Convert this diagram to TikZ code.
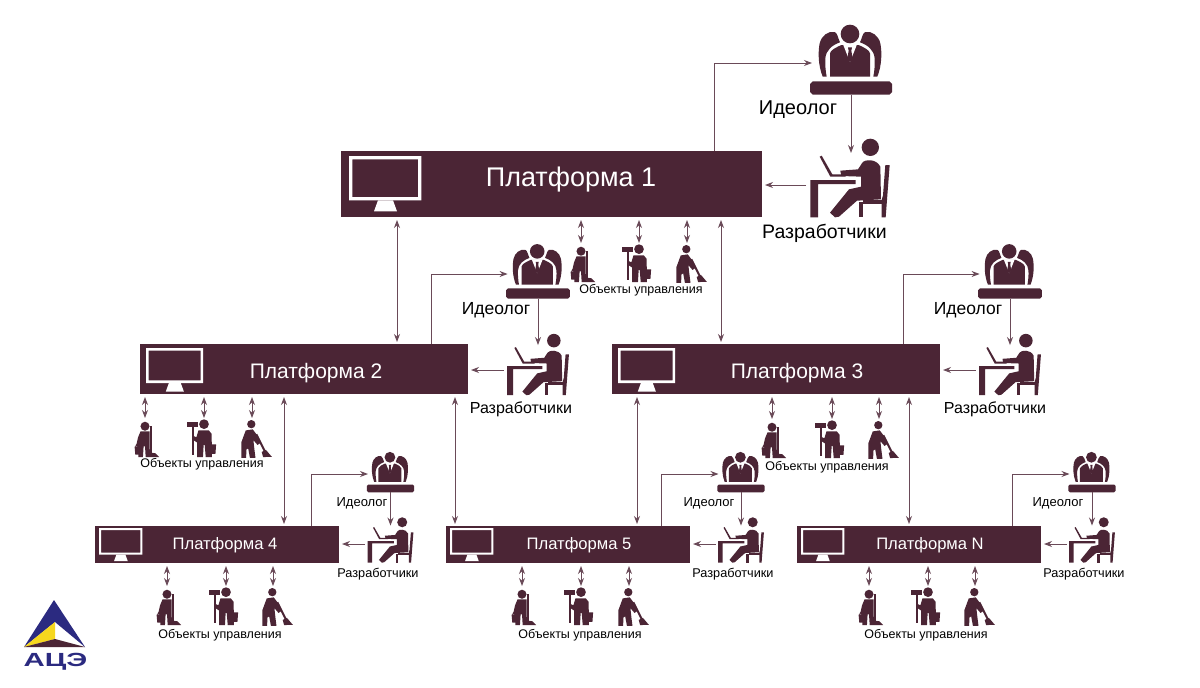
\documentclass[tikz,border=0pt]{standalone}
\usepackage{graphicx}
\usepackage{fontspec}
\setmainfont{Liberation Sans}
\usetikzlibrary{arrows.meta}
\definecolor{maroon}{HTML}{4B2535}
\definecolor{linec}{HTML}{6A4A58}
\definecolor{lblue}{HTML}{2B2A80}
\definecolor{lyellow}{HTML}{F6D71E}
\newcommand\fs[1]{\fontsize{#1}{#1}\selectfont}
\tikzset{
  plat/.style={fill=maroon,inner sep=0pt,outer sep=0pt},
  spot/.style={inner sep=0pt,outer sep=0pt},
  ptext/.style={text=white,inner sep=0pt},
  lbl/.style={text=black,inner sep=0pt},
  arr/.style={draw=linec,line width=1pt,-{Stealth[length=8pt,width=6pt]}},
  dbl/.style={draw=linec,line width=1pt,{Stealth[length=8pt,width=6pt]}-{Stealth[length=8pt,width=6pt]},shorten <=3pt,shorten >=2pt},
  monitorpic/.pic={
    \fill[white,even odd rule] (0,0) rectangle (217,133) (10,10) rectangle (207,123);
    \fill[white] (87,133) -- (132,133) -- (144,166) -- (75,166) -- cycle;
  },
  ideologpic/.pic={
    \begin{scope}[shift={(-391,-159)}]
    \fill[maroon] (276,214) -- (506,214) -- (514,222) -- (514,246) -- (506,254) -- (276,254) -- (268,246) -- (268,222) -- cycle;
    \fill[maroon] (388,72) circle (28);
    \fill[maroon] (328,200) -- (328,130) .. controls (330,120) and (345,113) .. (362,105) -- (414,105) .. controls (431,113) and (446,120) .. (448,130) -- (448,200) -- cycle;
    \fill[white] (367,103) -- (409,103) -- (388,156) -- cycle;
    \fill[maroon] (382,112) -- (394,112) -- (392,122) -- (396,146) -- (388,156) -- (380,146) -- (384,122) -- cycle;
    \fill[maroon] (306,200) .. controls (292,165) and (292,125) .. (297,100) .. controls (302,78) and (322,62) .. (342,66) .. controls (350,68) and (352,85) .. (358,97) .. controls (335,105) and (316,120) .. (314,145) .. controls (313,165) and (315,185) .. (318,200) -- cycle;
    \fill[maroon] (470,200) .. controls (484,165) and (484,125) .. (479,100) .. controls (474,78) and (454,62) .. (434,66) .. controls (426,68) and (424,85) .. (418,97) .. controls (441,105) and (460,120) .. (462,145) .. controls (463,165) and (461,185) .. (458,200) -- cycle;
    \end{scope}
  },
  devpic/.pic={
    \begin{scope}[shift={(-391,-525)}]
    \fill[maroon] (452,412) circle (26);
    \fill[maroon] (300,440) -- (306,437) -- (338,493) -- (378,493) -- (378,500) -- (332,500) -- cycle;
    \fill[maroon] (272,510) rectangle (408,522) (272,522) rectangle (295,622);
    \fill[maroon] (362,482) -- (415,478) -- (428,458) .. controls (435,448) and (470,445) .. (482,470) -- (484,568) -- (412,572) -- (358,620) -- (346,622) -- (331,608) -- (388,538) -- (424,530) -- (424,500) -- (365,498) -- cycle;
    \fill[maroon] (497,465) -- (510,465) -- (498,622) -- (486,622) -- (486,570) -- (490,556) -- cycle;
    \fill[maroon] (418,575) rectangle (430,622);
    \fill[maroon] (430,570) rectangle (490,582);
    \end{scope}
  },
  cleanerpic/.pic={
    \begin{scope}[shift={(-62,-100)}]
    \fill[maroon] (62,118) circle (13);
    \fill[maroon] (77,117) rectangle (83,197);
    \fill[maroon] (77,194) -- (92,196) -- (103,207) -- (77,207) -- cycle;
    \fill[maroon] (49,133) -- (75,133) -- (76,207) -- (64,207) -- (62,176) -- (58,176) -- (56,207) -- (43,207) -- (43,178) -- (36,176) -- (42,150) -- cycle;
    \fill[maroon] (32,177) -- (54,177) -- (52,200) -- (34,200) -- cycle;
    \draw[maroon,line width=.5pt] (34,178) .. controls (34,166) and (52,166) .. (52,178);
    \end{scope}
  },
  painterpic/.pic={
    \begin{scope}[shift={(-238,-100)}]
    \fill[maroon] (238,112) circle (14);
    \fill[maroon] (188,105) rectangle (222,119);
    \fill[maroon] (202,119) rectangle (208,202);
    \fill[maroon] (222,130) -- (252,130) -- (260,140) -- (261,207) -- (243,207) -- (240,172) -- (237,172) -- (235,207) -- (218,207) -- (218,165) -- (206,157) -- (206,145) -- (216,150) -- cycle;
    \fill[maroon] (247,170) -- (273,170) -- (271,198) -- (249,198) -- cycle;
    \end{scope}
  },
  sweeperpic/.pic={
    \begin{scope}[shift={(-380,-100)}]
    \fill[maroon] (378,112) circle (12);
    \fill[maroon] (362,130) -- (382,127) -- (398,148) -- (406,165) -- (396,172) -- (384,158) -- (387,185) -- (390,209) -- (374,209) -- (369,182) -- (364,185) -- (363,209) -- (349,209) -- (349,165) -- cycle;
    \fill[maroon] (390,142) -- (395,140) -- (420,190) -- (415,193) -- cycle;
    \fill[maroon] (408,192) -- (420,186) -- (437,206) -- (412,207) -- cycle;
    \end{scope}
  }
}
% platform: name, centre x, centre y, width, height
\newcommand\plat[5]{\node[plat,minimum width=#4pt,minimum height=#5pt] (#1) at (#2,#3) {};}
\newcommand\ideo[4]{\node[spot,minimum width={#4*78pt},minimum height={#4*63.4pt}] (#1) at (#2,#3) {};
  \pic[scale={#4/3}] at (#2,#3) {ideologpic};}
\newcommand\dev[4]{\node[spot,minimum width={#4*88pt},minimum height={#4*64pt}] (#1) at (#2,#3) {};
  \pic[scale={#4/3}] at (#2,#3) {devpic};}
% object group: prefix, x1, x2, x3, top y
\newcommand\objs[5]{%
  \node[spot,anchor=north,minimum width=30pt,minimum height=35pt] (#1a) at (#2,#5) {};
  \node[spot,anchor=north,minimum width=30pt,minimum height=35pt] (#1b) at (#3,#5) {};
  \node[spot,anchor=north,minimum width=30pt,minimum height=35pt] (#1c) at (#4,#5) {};
  \pic[scale={1.04/3}] at (#2,#5) {cleanerpic};
  \pic[scale={1.04/3}] at (#3,#5) {painterpic};
  \pic[scale={1.04/3}] at (#4,#5) {sweeperpic};}
\begin{document}
\begin{tikzpicture}[x=1pt,y=-1pt]
\useasboundingbox (0,0) rectangle (1200,688);
\fill[white] (0,0) rectangle (1200,688);
% platforms
\plat{p1}{551.5}{184}{421}{66}
\plat{p2}{304}{369}{328}{50}
\plat{p3}{776}{369}{328}{50}
\plat{p4}{217}{544.5}{244}{37}
\plat{p5}{568}{544.5}{244}{37}
\plat{pn}{919}{544.5}{244}{37}
\pic[scale=1/3] at (349,156) {monitorpic};
\pic[scale={.79/3}] at (146,348) {monitorpic};
\pic[scale={.79/3}] at (618,348) {monitorpic};
\pic[scale={.6/3}] at (99,528) {monitorpic};
\pic[scale={.6/3}] at (450,528) {monitorpic};
\pic[scale={.6/3}] at (801,528) {monitorpic};
\node[ptext,font=\fs{27}] (t1) at (571,180) {Платформа 1};
\node[ptext,font=\fs{21}] (t2) at (316,373) {Платформа 2};
\node[ptext,font=\fs{21}] (t3) at (797,373) {Платформа 3};
\node[ptext,font=\fs{16.6}] (t4) at (225,545.5) {Платформа 4};
\node[ptext,font=\fs{16.6}] (t5) at (579,545.5) {Платформа 5};
\node[ptext,font=\fs{16.6}] (t6) at (930,545.5) {Платформа N};
% people
\ideo{i1}{851}{63}{1}
\dev{d1}{850}{185}{1}
\ideo{i2}{538}{274}{.78}
\dev{d2}{538}{370}{.78}
\ideo{i3}{1010}{274}{.78}
\dev{d3}{1010}{370}{.78}
\ideo{i4}{390.5}{474}{.577}
\dev{d4}{390.5}{544}{.577}
\ideo{i5}{741}{474}{.577}
\dev{d5}{741}{544}{.577}
\ideo{i6}{1092}{474}{.577}
\dev{d6}{1092}{544}{.577}
% labels
\node[lbl,font=\fs{20}] (li1) at (798,109.5) {Идеолог};
\node[lbl,font=\fs{19.5}] (ld1) at (824.5,233) {Разработчики};
\node[lbl,font=\fs{17.5}] (li2) at (496,310) {Идеолог};
\node[lbl,font=\fs{16}] (ld2) at (521,409) {Разработчики};
\node[lbl,font=\fs{17.5}] (li3) at (968,310) {Идеолог};
\node[lbl,font=\fs{16}] (ld3) at (995,409) {Разработчики};
\node[lbl,font=\fs{13}] (li4) at (362,503) {Идеолог};
\node[lbl,font=\fs{12.7}] (ld4) at (378,574) {Разработчики};
\node[lbl,font=\fs{13}] (li5) at (709,503) {Идеолог};
\node[lbl,font=\fs{12.7}] (ld5) at (733,574) {Разработчики};
\node[lbl,font=\fs{13}] (li6) at (1058,503) {Идеолог};
\node[lbl,font=\fs{12.7}] (ld6) at (1084,574) {Разработчики};
% objects
\objs{oa}{581}{639}{687}{245}
\objs{ob}{145}{204}{252}{420}
\objs{oc}{772}{832}{879}{421}
\objs{od}{167}{226}{273}{588}
\objs{oe}{522}{581}{629}{588}
\objs{of}{869}{928}{975}{588}
\node[lbl,font=\fs{12.5}] (loa) at (641,290) {Объекты управления};
\node[lbl,font=\fs{12.5}] (lob) at (202,464) {Объекты управления};
\node[lbl,font=\fs{12.5}] (loc) at (827,467) {Объекты управления};
\node[lbl,font=\fs{12.5}] (lod) at (220,635) {Объекты управления};
\node[lbl,font=\fs{12.5}] (loe) at (580,635) {Объекты управления};
\node[lbl,font=\fs{12.5}] (lof) at (926,635) {Объекты управления};
% object connectors
\foreach \g/\p in {oa/p1,ob/p2,oc/p3,od/p4,oe/p5,of/pn}{
  \foreach \s in {a,b,c}{
    \draw[dbl] (\g\s.north |- \p.south) -- (\g\s.north);
  }
}
% platform to ideologist
\draw[arr] ([xshift=162.5pt]p1.north) |- (i1.west);
\draw[arr] ([xshift=127pt]p2.north) |- (i2.west);
\draw[arr] ([xshift=127pt]p3.north) |- (i3.west);
\draw[arr] ([xshift=94pt]p4.north) |- (i4.west);
\draw[arr] ([xshift=93pt]p5.north) |- (i5.west);
\draw[arr] ([xshift=93pt]pn.north) |- (i6.west);
% ideologist to developer
\foreach \k in {1,...,6}{
  \draw[arr] (i\k.south) -- (i\k.south |- d\k.north);
}
% developer to platform
\draw[arr,shorten >=3pt] (d1.west) -- (p1.east |- d1.west);
\draw[arr,shorten >=3pt] (d2.west) -- (p2.east |- d2.west);
\draw[arr,shorten >=3pt] (d3.west) -- (p3.east |- d3.west);
\draw[arr,shorten >=3pt] (d4.west) -- (p4.east |- d4.west);
\draw[arr,shorten >=3pt] (d5.west) -- (p5.east |- d5.west);
\draw[arr,shorten >=3pt] (d6.west) -- (pn.east |- d6.west);
% between platforms
\draw[dbl] ([xshift=-154.5pt]p1.south) -- ([xshift=93pt]p2.north);
\draw[dbl] ([xshift=169.5pt]p1.south) -- ([xshift=-55pt]p3.north);
\draw[dbl] ([xshift=-20pt]p2.south) -- ([xshift=67pt]p4.north);
\draw[dbl] ([xshift=151pt]p2.south) -- ([xshift=-113pt]p5.north);
\draw[dbl] ([xshift=-139pt]p3.south) -- ([xshift=69pt]p5.north);
\draw[dbl] ([xshift=133pt]p3.south) -- ([xshift=-10pt]pn.north);
% logo
\fill[lblue] (54,600) -- (85,647) -- (55,622) -- (24,647) -- cycle;
\fill[lyellow] (55,622) -- (55,639) -- (24,647) -- cycle;
\fill[maroon] (55,639) -- (85,647) -- (24,647) -- cycle;
\node[inner sep=0pt,text=lblue,font=\fs{19}\bfseries] (logo) at (55.5,661.5) {\scalebox{1.55}[1]{АЦЭ}};
\end{tikzpicture}
\end{document}
